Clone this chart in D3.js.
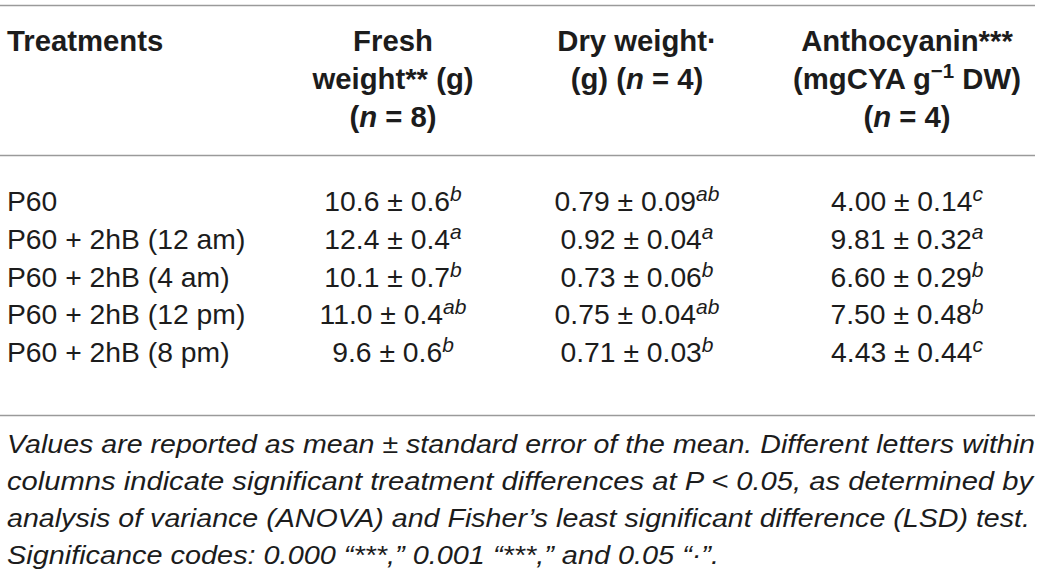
<!DOCTYPE html>
<html>
<head>
<meta charset="utf-8">
<script src="https://cdn.jsdelivr.net/npm/d3@7"></script>
<style>
  html, body { margin: 0; padding: 0; background: #fff; }
  svg { display: block; }
  text { font-family: "Liberation Sans", Arial, Helvetica, sans-serif; fill: #1c1c1c; }
</style>
</head>
<body>
<svg id="chart" width="1041" height="577"></svg>
<script>
// ---- data ----
const treatments = ["P60", "P60 + 2hB (12 am)", "P60 + 2hB (4 am)", "P60 + 2hB (12 pm)", "P60 + 2hB (8 pm)"];
const freshMean = [10.6, 12.4, 10.1, 11.0, 9.6];
const freshSE = [0.6, 0.4, 0.7, 0.4, 0.6];
const freshLetter = ["b", "a", "b", "ab", "b"];
const dryMean = [0.79, 0.92, 0.73, 0.75, 0.71];
const drySE = [0.09, 0.04, 0.06, 0.04, 0.03];
const dryLetter = ["ab", "a", "b", "ab", "b"];
const anthoMean = [4.00, 9.81, 6.60, 7.50, 4.43];
const anthoSE = [0.14, 0.32, 0.29, 0.48, 0.44];
const anthoLetter = ["c", "a", "b", "b", "c"];
const columns = ["treat", "fresh", "dry", "antho"];
const footnoteLines = [
  "Values are reported as mean \u00b1 standard error of the mean. Different letters within",
  "columns indicate significant treatment differences at P < 0.05, as determined by",
  "analysis of variance (ANOVA) and Fisher\u2019s least significant difference (LSD) test.",
  "Significance codes: 0.000 \u201c***,\u201d 0.001 \u201c***,\u201d and 0.05 \u201c\u00b7\u201d."
];

// ---- layout ----
const svg = d3.select("#chart");
const xCol = d3.scaleOrdinal().domain(columns).range([7, 393, 637, 907]);
const yRow = d3.scalePoint().domain(treatments).range([211, 362]);
const yFoot = d3.scalePoint().domain(d3.range(footnoteLines.length)).range([453, 564]);
const rules = [5.5, 155.5, 415.5];
const lineColor = "#9a9a9a";

svg.selectAll("line.rule").data(rules).join("line")
  .attr("class", "rule")
  .attr("x1", 0).attr("x2", 1035)
  .attr("y1", d => d).attr("y2", d => d)
  .attr("stroke", lineColor).attr("stroke-width", 1.6);

// ---- header ----
const hdrSize = 29.3;
const hdr = svg.append("g").attr("font-weight", "bold").attr("font-size", hdrSize);
const hb = [51, 89, 127];

hdr.append("text").attr("x", xCol("treat")).attr("y", hb[0]).text("Treatments");

function centered(g, x, y, parts) {
  const t = g.append("text").attr("x", x).attr("y", y).attr("text-anchor", "middle");
  parts.forEach(p => {
    const s = t.append("tspan").text(p.t);
    if (p.i) s.attr("font-style", "italic");
    if (p.sup) s.attr("font-size", hdrSize * 0.7).attr("dy", -11);
    if (p.down) s.attr("dy", 11);
  });
  return t;
}
centered(hdr, xCol("fresh"), hb[0], [{t: "Fresh"}]);
centered(hdr, xCol("fresh"), hb[1], [{t: "weight** (g)"}]);
centered(hdr, xCol("fresh"), hb[2], [{t: "("}, {t: "n", i: true}, {t: " = 8)"}]);
centered(hdr, xCol("dry"), hb[0], [{t: "Dry weight\u00b7"}]);
centered(hdr, xCol("dry"), hb[1], [{t: "(g) ("}, {t: "n", i: true}, {t: " = 4)"}]);
centered(hdr, xCol("antho"), hb[0], [{t: "Anthocyanin***"}]);
centered(hdr, xCol("antho"), hb[1], [{t: "(mgCYA g"}, {t: "\u22121", sup: true}, {t: " DW)", down: true}]);
centered(hdr, xCol("antho"), hb[2], [{t: "("}, {t: "n", i: true}, {t: " = 4)"}]);

// ---- body ----
const bodySize = 28.3;
const body = svg.append("g").attr("font-size", bodySize);

body.selectAll("text.treat").data(treatments).join("text")
  .attr("class", "treat")
  .attr("x", xCol("treat"))
  .attr("y", d => yRow(d))
  .attr("fill", "#262626")
  .text(d => d);

const f1 = d3.format(".1f"), f2 = d3.format(".2f");
const cols = [
  {key: "fresh", mean: freshMean, se: freshSE, letter: freshLetter, fmt: f1},
  {key: "dry", mean: dryMean, se: drySE, letter: dryLetter, fmt: f2},
  {key: "antho", mean: anthoMean, se: anthoSE, letter: anthoLetter, fmt: f2}
];
cols.forEach(c => {
  treatments.forEach((tr, i) => {
    const t = body.append("text")
      .attr("x", xCol(c.key)).attr("y", yRow(tr))
      .attr("text-anchor", "middle")
      .attr("fill", "#262626");
    t.append("tspan").text(c.fmt(c.mean[i]) + " \u00b1 " + c.fmt(c.se[i]));
    t.append("tspan").attr("font-style", "italic").attr("font-size", 21).attr("dy", -10)
      .text(c.letter[i]);
  });
});

// ---- footnote ----
const foot = svg.append("g").attr("font-size", 25).attr("font-style", "italic");
const footWidths = [1028, 1026, 1023, 712];
foot.selectAll("text").data(footnoteLines).join("text")
  .attr("x", 7)
  .attr("y", (d, i) => yFoot(i))
  .attr("fill", "#2a2a2a")
  .attr("textLength", (d, i) => footWidths[i])
  .attr("lengthAdjust", "spacingAndGlyphs")
  .text(d => d);
</script>
</body>
</html>
